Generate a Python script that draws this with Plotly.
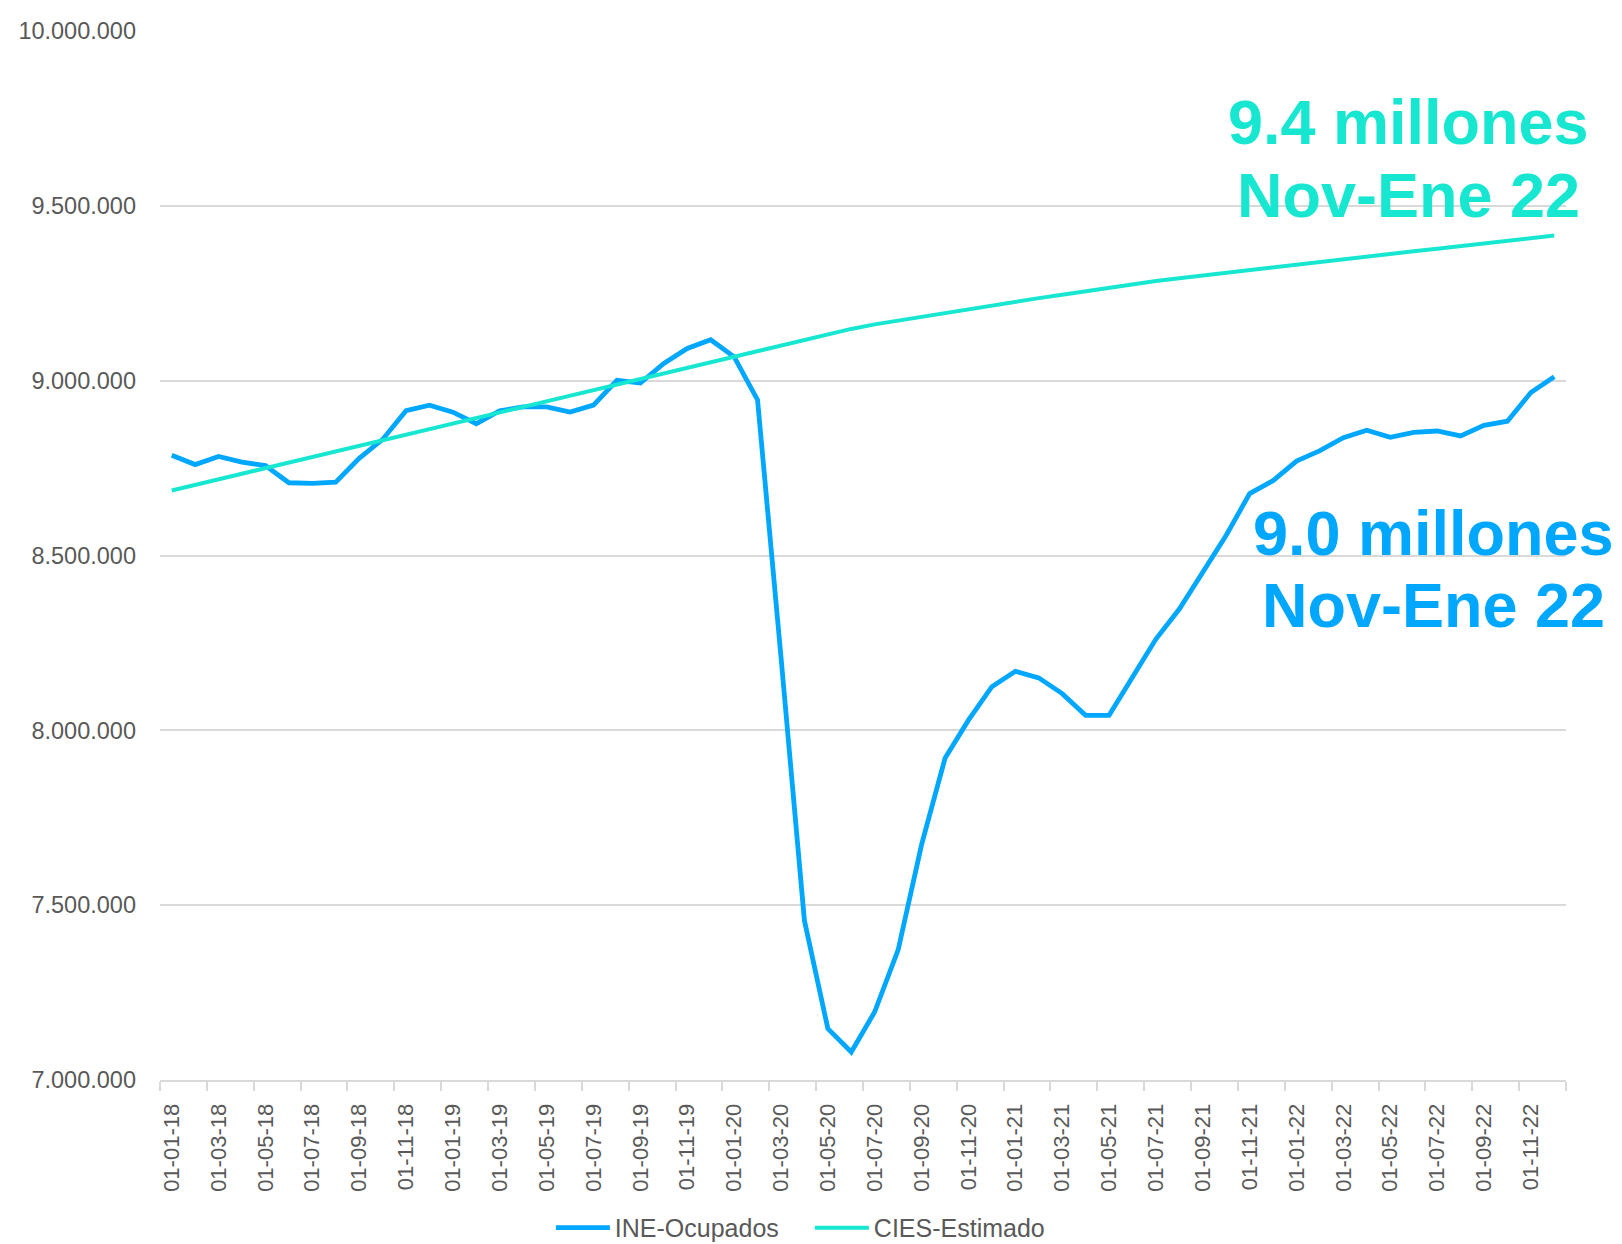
import plotly.graph_objects as go

# ---------------- data ----------------
dates = [
    "01-01-18", "01-02-18", "01-03-18", "01-04-18", "01-05-18", "01-06-18",
    "01-07-18", "01-08-18", "01-09-18", "01-10-18", "01-11-18", "01-12-18",
    "01-01-19", "01-02-19", "01-03-19", "01-04-19", "01-05-19", "01-06-19",
    "01-07-19", "01-08-19", "01-09-19", "01-10-19", "01-11-19", "01-12-19",
    "01-01-20", "01-02-20", "01-03-20", "01-04-20", "01-05-20", "01-06-20",
    "01-07-20", "01-08-20", "01-09-20", "01-10-20", "01-11-20", "01-12-20",
    "01-01-21", "01-02-21", "01-03-21", "01-04-21", "01-05-21", "01-06-21",
    "01-07-21", "01-08-21", "01-09-21", "01-10-21", "01-11-21", "01-12-21",
    "01-01-22", "01-02-22", "01-03-22", "01-04-22", "01-05-22", "01-06-22",
    "01-07-22", "01-08-22", "01-09-22", "01-10-22", "01-11-22", "01-12-22",
]

ine_ocupados = [
    8787000, 8760000, 8783000, 8767000, 8757000, 8708000,
    8706000, 8710000, 8778000, 8832000, 8914000, 8930000,
    8910000, 8877000, 8914000, 8925000, 8925000, 8910000,
    8930000, 9001000, 8993000, 9049000, 9092000, 9117000,
    9068000, 8945000, 8210000, 7456000, 7147000, 7080000,
    7195000, 7372000, 7673000, 7920000, 8029000, 8125000,
    8169000, 8150000, 8105000, 8043000, 8043000, 8152000,
    8261000, 8347000, 8455000, 8558000, 8677000, 8714000,
    8770000, 8800000, 8837000, 8858000, 8838000, 8852000,
    8856000, 8842000, 8872000, 8884000, 8966000, 9011000,
]

cies_estimado = [
    8686000, 8702000, 8718000, 8734000, 8750000, 8766000,
    8782000, 8798000, 8814000, 8830000, 8846000, 8862000,
    8878000, 8894000, 8910000, 8926000, 8942000, 8958000,
    8974000, 8990000, 9006000, 9022000, 9038000, 9054000,
    9070000, 9086000, 9102000, 9117000, 9132000, 9148000,
    9161000, 9172000, 9183000, 9194000, 9205000, 9215000,
    9225000, 9236000, 9246000, 9256000, 9266000, 9276000,
    9285000, 9293000, 9301000, 9309000, 9317000, 9325000,
    9332000, 9340000, 9348000, 9355000, 9363000, 9370000,
    9377000, 9385000, 9392000, 9399000, 9407000, 9415000,
]

series_names = ["INE-Ocupados", "CIES-Estimado"]
annot_cies = ["9.4 millones", "Nov-Ene 22"]
annot_ine = ["9.0 millones", "Nov-Ene 22"]

# ---------------- styling ----------------
BLUE = "#00A7FF"
TEAL = "#17E7D1"
GRID = "#D9D9D9"
LABEL = "#595959"
FONT = "Liberation Sans, Arial, Helvetica, sans-serif"

idx = list(range(len(dates)))
label_idx = idx[::2]
label_txt = dates[::2]
boundaries = [i - 0.5 for i in range(0, len(dates) + 1, 2)]

fig = go.Figure()
fig.add_trace(go.Scatter(
    x=idx, y=ine_ocupados, name=series_names[0], mode="lines",
    line=dict(color=BLUE, width=4.8),
))
fig.add_trace(go.Scatter(
    x=idx, y=cies_estimado, name=series_names[1], mode="lines",
    line=dict(color=TEAL, width=4.0),
))

# annotations (two lines each)
for text, y in zip(annot_cies, [0.913, 0.844]):
    fig.add_annotation(text=f"<b>{text}</b>", x=0.888, y=y, xref="paper", yref="paper",
                       xanchor="center", yanchor="middle", showarrow=False,
                       font=dict(family=FONT, size=63, color=TEAL))
for text, y in zip(annot_ine, [0.521, 0.453]):
    fig.add_annotation(text=f"<b>{text}</b>", x=0.906, y=y, xref="paper", yref="paper",
                       xanchor="center", yanchor="middle", showarrow=False,
                       font=dict(family=FONT, size=63, color=BLUE))

# figure offset by the page's default 8px body margin
fig.update_layout(
    width=1606, height=1236,
    margin=dict(l=152, r=48, t=23, b=164, autoexpand=False),
    paper_bgcolor="white", plot_bgcolor="white",
    separators=",.",
    font=dict(family=FONT, color=LABEL, size=20),
    showlegend=True,
    legend=dict(
        orientation="h", x=0.278, xanchor="left", y=-0.141, yanchor="middle",
        font=dict(family=FONT, size=25, color=LABEL),
        itemwidth=54, entrywidth=190, entrywidthmode="pixels",
        tracegroupgap=0, bgcolor="rgba(0,0,0,0)",
    ),
)

fig.update_xaxes(
    range=[-0.5, len(dates) - 0.5], automargin=False,
    tickmode="array", tickvals=label_idx, ticktext=label_txt,
    tickangle=-90, ticks="", showgrid=False, zeroline=False,
    showline=True, linecolor=GRID, linewidth=2,
    tickfont=dict(family=FONT, size=22, color=LABEL),
    ticklabelstandoff=13,
    minor=dict(tickmode="array", tickvals=boundaries, ticks="outside",
               ticklen=9, tickcolor=GRID, tickwidth=2, showgrid=False),
)

fig.update_yaxes(
    range=[7000000, 10000000], dtick=500000, tick0=7000000, automargin=False,
    tickformat=",d", showgrid=True, gridcolor=GRID, gridwidth=2,
    zeroline=False, showline=False, ticks="",
    tickfont=dict(family=FONT, size=23.5, color=LABEL),
    ticklabelstandoff=23,
)

fig.write_html("out.html")
